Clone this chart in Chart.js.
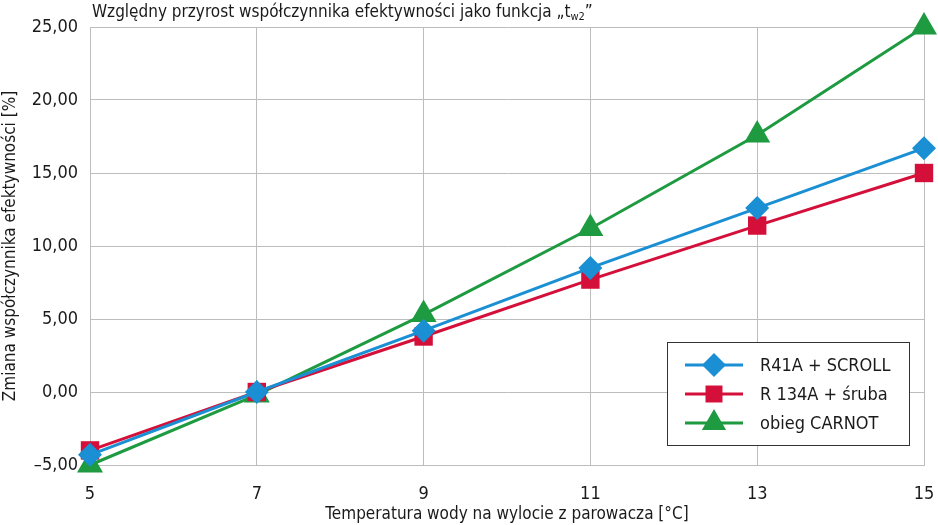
<!DOCTYPE html>
<html lang="pl">
<head>
<meta charset="utf-8">
<script src="https://cdn.jsdelivr.net/npm/chart.js@4.4.1/dist/chart.umd.min.js"></script>
<style>
  html, body { margin: 0; padding: 0; background: #fff; }
  #wrap { position: relative; width: 938px; height: 525px; }
  #title {
    position: absolute; left: 92px; top: 1px;
    font-family: 'Liberation Sans Narrow', 'DejaVu Sans Condensed', 'Roboto', sans-serif;
    font-size: 17px; color: #1a1a1a; white-space: nowrap;
  }
  #title sub { font-size: 11px; vertical-align: -3px; }
</style>
</head>
<body>
<div id="wrap">
  <canvas id="chart" width="938" height="525"></canvas>
  <div id="title">Względny przyrost współczynnika efektywności jako funkcja „t<sub>w2</sub>”</div>
</div>
<script>
const FONT = "'Liberation Sans Narrow', 'DejaVu Sans Condensed', 'Roboto', sans-serif";

const xValues = [5, 7, 9, 11, 13, 15];
const xTicks = [5, 7, 9, 11, 13, 15];
const yTicks = [-5, 0, 5, 10, 15, 20, 25];

const seriesNames = ['R41A + SCROLL', 'R 134A + śruba', 'obieg CARNOT'];
const r41aScroll = [-4.3, 0.0, 4.2, 8.5, 12.6, 16.7];
const r134aSruba = [-4.0, 0.0, 3.8, 7.7, 11.4, 15.0];
const carnot = [-5.0, -0.2, 5.3, 11.2, 17.6, 25.0];

const colors = ['#1a8fd3', '#d4103a', '#1e9a40'];
const markers = ['rectRot', 'rect', 'triangle'];
const markerSizes = [12, 13, 15];
const legendMarkerSizes = [12, 12, 14];

const toPoints = (ys) => ys.map((y, i) => ({ x: xValues[i], y }));

const datasets = [r41aScroll, r134aSruba, carnot].map((ys, i) => ({
  label: seriesNames[i],
  data: toPoints(ys),
  borderColor: colors[i],
  backgroundColor: colors[i],
  borderWidth: 3,
  pointStyle: markers[i],
  pointRadius: markerSizes[i],
  pointBorderWidth: 0,
  pointBackgroundColor: colors[i],
  tension: 0,
  clip: false,
}));

const insideLegend = {
  id: 'insideLegend',
  afterDraw(chart) {
    const { ctx, chartArea } = chart;
    const left = chartArea.right - 257;
    const top = chartArea.bottom - 123;
    const width = 242;
    const height = 103;
    ctx.save();
    ctx.fillStyle = '#fff';
    ctx.fillRect(left, top, width, height);
    ctx.strokeStyle = '#333';
    ctx.lineWidth = 1;
    ctx.strokeRect(left + 0.5, top + 0.5, width, height);
    chart.data.datasets.forEach((ds, i) => {
      const cy = top + 23 + i * 29;
      ctx.strokeStyle = ds.borderColor;
      ctx.lineWidth = 3;
      ctx.beginPath();
      ctx.moveTo(left + 18, cy);
      ctx.lineTo(left + 76, cy);
      ctx.stroke();
      ctx.fillStyle = ds.borderColor;
      Chart.helpers.drawPoint(ctx, {
        pointStyle: ds.pointStyle,
        radius: legendMarkerSizes[i],
        borderWidth: 0,
        rotation: 0,
      }, left + 47, cy);
      ctx.fillStyle = '#1a1a1a';
      ctx.font = `18px ${FONT}`;
      ctx.textBaseline = 'middle';
      ctx.textAlign = 'left';
      ctx.fillText(ds.label, left + 93, cy + 1);
    });
    ctx.restore();
  },
};

function fmt(value) {
  return value.toFixed(2).replace('.', ',').replace('-', '–');
}

new Chart(document.getElementById('chart'), {
  type: 'line',
  data: { datasets },
  plugins: [insideLegend],
  options: {
    responsive: false,
    animation: false,
    layout: { padding: { top: 27, right: 14, left: 0, bottom: 0 }, autoPadding: false },
    plugins: {
      legend: { display: false },
      tooltip: { enabled: false },
    },
    scales: {
      x: {
        type: 'linear',
        min: 5,
        max: 15,
        afterBuildTicks(scale) { scale.ticks = xTicks.map((v) => ({ value: v })); },
        afterFit(scale) {
          scale.height = 60;
          scale.paddingLeft = 0;
          scale.paddingRight = 0;
        },
        grid: { color: '#bdbdbd', lineWidth: 1, drawTicks: false },
        border: { color: '#bdbdbd' },
        ticks: { color: '#1a1a1a', padding: 19, font: { family: FONT, size: 18 } },
        title: {
          display: true,
          text: 'Temperatura wody na wylocie z parowacza [°C]',
          color: '#1a1a1a',
          font: { family: FONT, size: 17 },
          padding: { top: 0, bottom: 0 },
        },
      },
      y: {
        min: -5,
        max: 25,
        afterBuildTicks(scale) { scale.ticks = yTicks.map((v) => ({ value: v })); },
        afterFit(scale) {
          scale.width = 90;
          scale.paddingTop = 0;
          scale.paddingBottom = 0;
        },
        grid: { color: '#bdbdbd', lineWidth: 1, drawTicks: false },
        border: { color: '#bdbdbd' },
        ticks: {
          color: '#1a1a1a',
          padding: 12,
          font: { family: FONT, size: 18 },
          callback: (value) => fmt(value),
        },
        title: {
          display: true,
          text: 'Zmiana współczynnika efektywności [%]',
          color: '#1a1a1a',
          font: { family: FONT, size: 17 },
          padding: { top: 0, bottom: 2 },
        },
      },
    },
  },
});
</script>
</body>
</html>
